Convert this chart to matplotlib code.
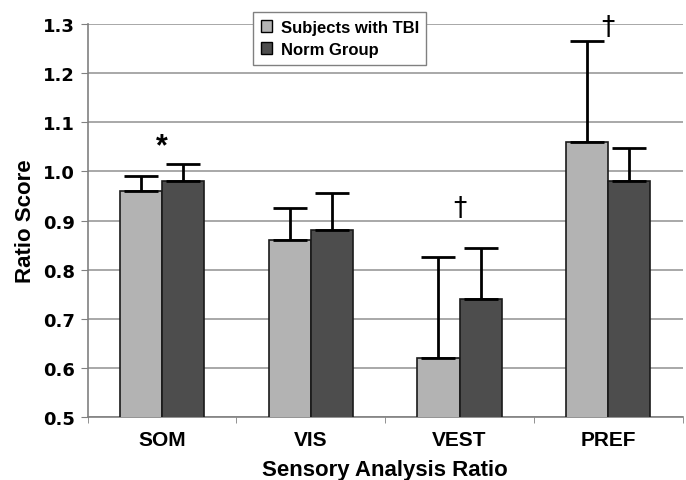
import numpy as np
import matplotlib
matplotlib.use("Agg")
import matplotlib.pyplot as plt
from matplotlib.patches import Patch

plt.rcParams['font.family'] = ['Liberation Sans', 'DejaVu Sans']
plt.rcParams['font.weight'] = 'bold'

categories = ['SOM', 'VIS', 'VEST', 'PREF']
tbi_means = [0.96, 0.86, 0.62, 1.06]
tbi_err = [0.03, 0.065, 0.205, 0.205]
norm_means = [0.98, 0.88, 0.74, 0.98]
norm_err = [0.035, 0.075, 0.105, 0.068]
marks = ['*', '', '\u2020', '\u2020']
mark_y = [1.052, None, 0.925, 1.293]

fig = plt.figure(figsize=(6.86, 4.81), dpi=100)
ax = fig.add_axes([0.128, 0.131, 0.867, 0.817])

x = np.arange(len(categories))
w = 0.283
ekw = dict(ecolor='black', elinewidth=2.0, capsize=12, capthick=2.0)
ax.bar(x - w / 2, tbi_means, w, color='#b3b3b3', edgecolor='#1a1a1a', linewidth=1.2,
       yerr=[np.zeros(4), tbi_err], error_kw=ekw, zorder=3, label='Subjects with TBI')
ax.bar(x + w / 2, norm_means, w, color='#4d4d4d', edgecolor='#1a1a1a', linewidth=1.2,
       yerr=[np.zeros(4), norm_err], error_kw=ekw, zorder=3, label='Norm Group')

for i, m in enumerate(marks):
    if m == '*':
        ax.text(x[i], mark_y[i], m, ha='center', va='center', fontsize=22, clip_on=False)
    elif m:
        ax.text(x[i], mark_y[i], m, ha='center', va='center', fontsize=19, fontweight='normal',
                family='DejaVu Sans', clip_on=False)

ax.set_xlim(-0.5, 3.5)
ax.set_ylim(0.5, 1.3)
yt = np.arange(0.5, 1.31, 0.1)
ax.set_yticks(yt)
ax.set_yticklabels([f'{v:.1f}' for v in yt], family='DejaVu Sans', fontsize=13, fontweight='bold')
ax.set_xticks(x)
ax.set_xticklabels(categories, fontsize=15, fontweight='bold')
ax.set_xticks(np.arange(-0.5, 3.6, 1.0), minor=True)
ax.tick_params(axis='x', which='major', length=0, pad=9.5)
ax.tick_params(axis='x', which='minor', length=4, color='#808080')
ax.tick_params(axis='y', length=5, pad=4, color='#808080')
ax.yaxis.grid(True, color='#999999', linewidth=1.2, zorder=0)
ax.set_axisbelow(True)
for s in ['top', 'right']:
    ax.spines[s].set_visible(False)
for s in ['left', 'bottom']:
    ax.spines[s].set_color('#808080')
    ax.spines[s].set_linewidth(1.2)

ax.set_ylabel('Ratio Score', fontsize=16, fontweight='bold', labelpad=5)
ax.set_xlabel('Sensory Analysis Ratio', fontsize=16, fontweight='bold', labelpad=7)

handles = [Patch(facecolor='#b3b3b3', edgecolor='black'), Patch(facecolor='#4d4d4d', edgecolor='black')]
leg = ax.legend(handles, ['Subjects with TBI', 'Norm Group'], loc='upper center',
                bbox_to_anchor=(0.4235, 1.0305), fontsize=12, frameon=True, fancybox=False,
                handlelength=0.7, handleheight=0.7, handletextpad=0.5, borderpad=0.45,
                labelspacing=0.45, edgecolor='#808080', framealpha=1, borderaxespad=0)
leg.get_frame().set_linewidth(1.0)

fig.savefig('out.png', dpi=100)
